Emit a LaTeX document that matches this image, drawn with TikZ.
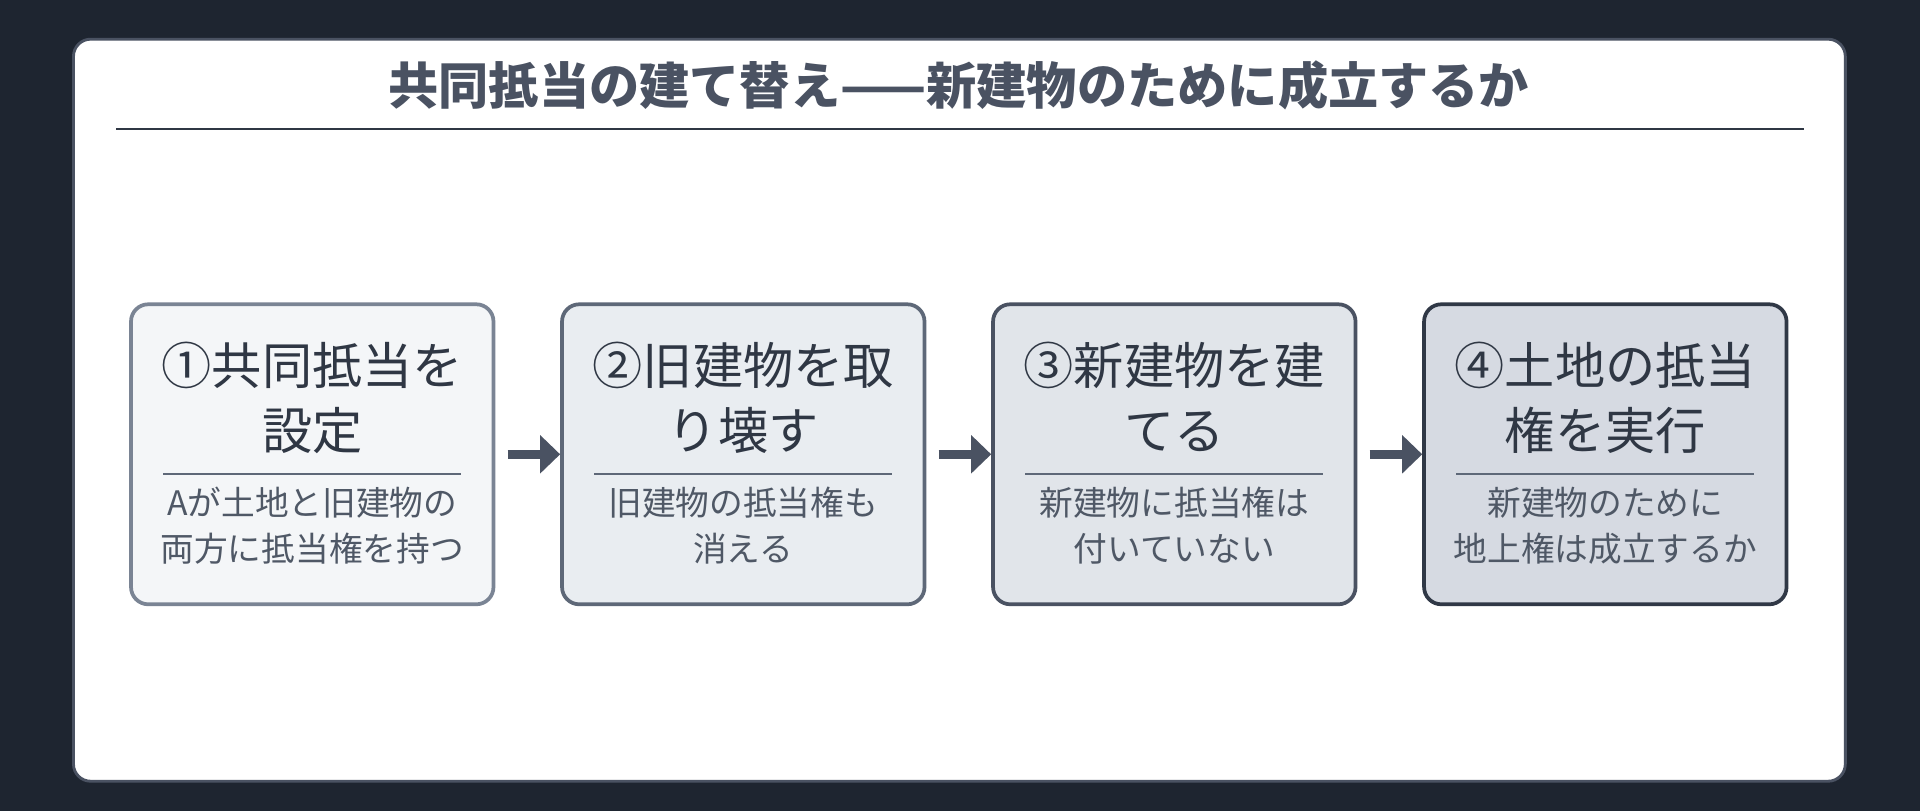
\documentclass[tikz,border=0pt]{standalone}
\usepackage{fontspec}
\setmainfont{Noto Sans CJK JP}
\usetikzlibrary{arrows.meta}
\definecolor{bgdark}{HTML}{1E2530}
\definecolor{ink}{HTML}{2F3744}
\definecolor{subink}{HTML}{4F5866}
\definecolor{edgeA}{HTML}{7A8494}
\definecolor{edgeB}{HTML}{5E6878}
\definecolor{edgeC}{HTML}{4A5262}
\definecolor{edgeD}{HTML}{303846}
\tikzset{
  step/.style={draw=#1, line width=2.6pt, rounded corners=12pt, minimum width=8.88cm, minimum height=7.35cm},
  head/.style={font=\fontsize{35}{45}\selectfont, text=ink, align=center},
  sub/.style={font=\fontsize{23.5}{32}\selectfont, text=subink, align=center},
  flow/.style={-{Triangle[length=14pt,width=26pt]}, line width=6pt, draw=edgeC}
}
\begin{document}
\begin{tikzpicture}[x=0.03cm,y=-0.03cm]
  \fill[bgdark] (0,0) rectangle (1568,662);
  \useasboundingbox (0,0) rectangle (1568,662);
  \draw[fill=white, draw=edgeC, line width=2pt, rounded corners=12pt] (60,32) rectangle (1507,638);
  \node[font=\fontsize{35}{44}\selectfont\bfseries, text=edgeC] (title) at (783,70) {共同抵当の建て替え——新建物のために成立するか};
  \draw[ink, line width=1.5pt] (95,105) -- (1473,105);
  % steps
  \node[step=edgeA, fill={rgb,255:red,244;green,246;blue,248}] (s1) at (255,371) {};
  \node[step=edgeB, fill={rgb,255:red,233;green,237;blue,241}] (s2) at (607,371) {};
  \node[step=edgeC, fill={rgb,255:red,225;green,229;blue,234}] (s3) at (959,371) {};
  \node[step=edgeD, fill={rgb,255:red,214;green,218;blue,226}] (s4) at (1311,371) {};
  \foreach \n/\h/\s in {s1/{①共同抵当を\\設定}/{Aが土地と旧建物の\\両方に抵当権を持つ},
                        s2/{②旧建物を取\\り壊す}/{旧建物の抵当権も\\消える},
                        s3/{③新建物を建\\てる}/{新建物に抵当権は\\付いていない},
                        s4/{④土地の抵当\\権を実行}/{新建物のために\\地上権は成立するか}} {
    \node[head] (\n h) at ([yshift=-0.85cm]\n.north) [anchor=north] {\h};
    \draw[edgeB, line width=1.2pt] ([xshift=-3.65cm,yshift=-4.2cm]\n.north) -- ([xshift=3.65cm,yshift=-4.2cm]\n.north);
    \node[sub] (\n s) at ([yshift=-4.4cm]\n.north) [anchor=north] {\s};
  }
  \draw[flow] ([xshift=0.3cm]s1.east) -- (s2.west);
  \draw[flow] ([xshift=0.3cm]s2.east) -- (s3.west);
  \draw[flow] ([xshift=0.3cm]s3.east) -- (s4.west);
\end{tikzpicture}
\end{document}
